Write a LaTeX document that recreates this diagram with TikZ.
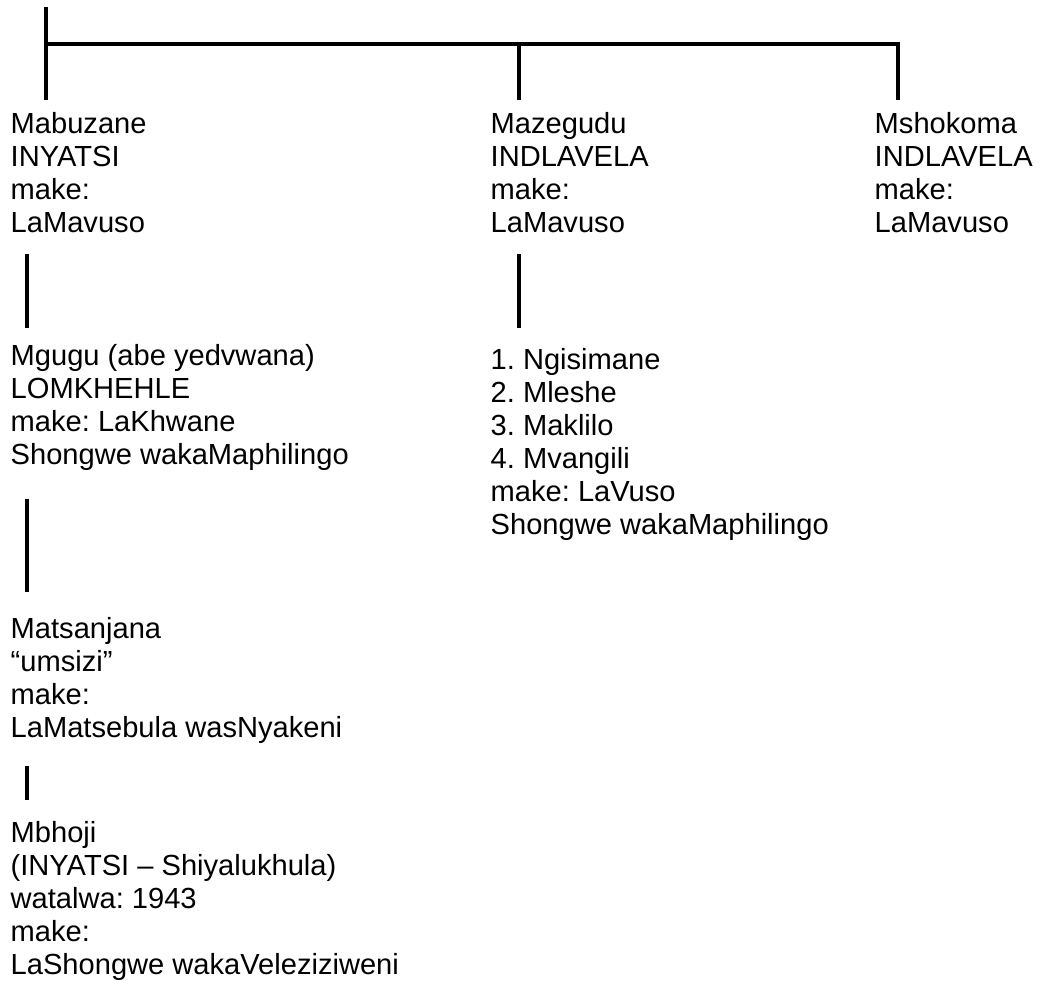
\documentclass[tikz,border=0pt]{standalone}
\usepackage{fontspec}
\setmainfont{Liberation Sans}
\tikzset{
person/.style={anchor=north west,inner sep=0pt,align=left,font=\fontsize{29.1}{33}\selectfont\frenchspacing},
line/.style={line width=3.2pt}
}
\begin{document}
\begin{tikzpicture}[x=1pt,y=-1pt]
    \useasboundingbox (0,0) rectangle (1041,981);
    \node[person] (mabuzane) at (10.5,112.5) {Mabuzane\\INYATSI\\make:\\LaMavuso};
    \node[person] (mazegudu) at (490.5,112.5) {Mazegudu\\INDLAVELA\\make:\\LaMavuso};
    \node[person] (mshokoma) at (874.5,112.5) {Mshokoma\\INDLAVELA\\make:\\LaMavuso};
    \node[person] (mgugu) at (10.5,344) {Mgugu (abe yedvwana)\\LOMKHEHLE\\make: LaKhwane\\Shongwe wakaMaphilingo};
    \node[person] (bantfwana) at (490.5,348.5) {1. Ngisimane\\2. Mleshe\\3. Maklilo\\4. Mvangili\\make: LaVuso\\Shongwe wakaMaphilingo};
    \node[person] (matsanjana) at (10.5,617.5) {Matsanjana\\“umsizi”\\make:\\LaMatsebula wasNyakeni};
    \node[person] (mbhoji) at (10.5,821.5) {Mbhoji\\(INYATSI – Shiyalukhula)\\watalwa: 1943\\make:\\LaShongwe wakaVeleziziweni};
    \coordinate (root) at (46,7);
    \coordinate (bar) at (46,44);
    \draw[line] (root) -- ([xshift=35.5pt,yshift=12.5pt]mabuzane.north west);
    \draw[line] (bar) -| ([xshift=23.5pt,yshift=12.5pt]mshokoma.north west);
    \draw[line] ([xshift=28.5pt,yshift=12.5pt]mazegudu.north west) -- +(0,-56);
    \draw[line] ([xshift=16.5pt,yshift=-21pt]mabuzane.south west) -- ([xshift=16.5pt,yshift=16pt]mgugu.north west);
    \draw[line] ([xshift=28.5pt,yshift=-21pt]mazegudu.south west) -- ([xshift=28.5pt,yshift=20.5pt]bantfwana.north west);
    \draw[line] ([xshift=16.5pt,yshift=-28pt]mgugu.south west) -- ([xshift=16.5pt,yshift=25.5pt]matsanjana.north west);
    \draw[line] ([xshift=16.5pt,yshift=-22pt]matsanjana.south west) -- ([xshift=16.5pt,yshift=21.5pt]mbhoji.north west);
\end{tikzpicture}
\end{document}
